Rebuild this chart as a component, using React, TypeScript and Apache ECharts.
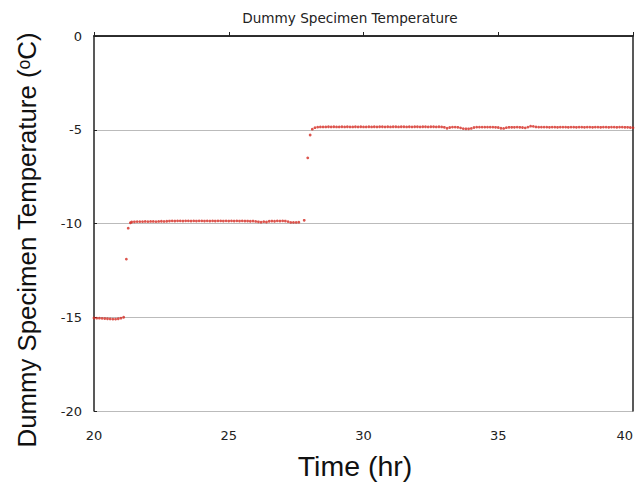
import React, { useEffect, useRef } from "react";
import * as echarts from "echarts";

const chartTitle = "Dummy Specimen Temperature";
const xAxisTitle = "Time (hr)";
const yAxisTitle = "Dummy Specimen Temperature (ᵒC)";
const xTicks = { min: 20, max: 40, interval: 5 };
const yTicks = { min: -20, max: 0, interval: 5 };

// Segment at about -15 °C
const timeA = [20.0, 20.1, 20.2, 20.3, 20.4, 20.5, 20.6, 20.7, 20.8, 20.9, 21.0, 21.1];
const tempA = [-15.04, -15.05, -15.05, -15.06, -15.07, -15.08, -15.09, -15.1, -15.1, -15.08, -15.05, -15.0];

// Step to -10 °C
const timeAB = [21.2, 21.27, 21.35];
const tempAB = [-11.9, -10.25, -9.96];

// Segment at about -10 °C
const timeB = [
  21.4, 21.5, 21.6, 21.7, 21.8, 21.9, 22.0, 22.1, 22.2, 22.3, 22.4, 22.5, 22.6, 22.7,
  22.8, 22.9, 23.0, 23.1, 23.2, 23.3, 23.4, 23.5, 23.6, 23.7, 23.8, 23.9, 24.0, 24.1,
  24.2, 24.3, 24.4, 24.5, 24.6, 24.7, 24.8, 24.9, 25.0, 25.1, 25.2, 25.3, 25.4, 25.5,
  25.6, 25.7, 25.8, 25.9, 26.0, 26.1, 26.2, 26.3, 26.4, 26.5, 26.6, 26.7, 26.8, 26.9,
  27.0, 27.1, 27.2, 27.3, 27.4, 27.5, 27.6, 27.8,
];
const tempB = [
  -9.92, -9.91, -9.9, -9.9, -9.9, -9.89, -9.9, -9.89, -9.89, -9.9, -9.89, -9.88, -9.89, -9.88,
  -9.87, -9.86, -9.87, -9.86, -9.86, -9.87, -9.86, -9.86, -9.87, -9.86, -9.87, -9.86, -9.86, -9.87,
  -9.86, -9.87, -9.86, -9.87, -9.86, -9.86, -9.87, -9.86, -9.87, -9.86, -9.87, -9.86, -9.87, -9.86,
  -9.87, -9.87, -9.88, -9.87, -9.89, -9.91, -9.93, -9.9, -9.92, -9.88, -9.87, -9.88, -9.86, -9.87,
  -9.86, -9.87, -9.9, -9.94, -9.94, -9.94, -9.93, -9.83,
];

// Step to -5 °C
const timeBC = [27.93, 28.02, 28.1, 28.2];
const tempBC = [-6.5, -5.28, -4.97, -4.89];

// Segment at about -5 °C
const timeC = [
  28.3, 28.4, 28.5, 28.6, 28.7, 28.8, 28.9, 29.0, 29.1, 29.2, 29.3, 29.4, 29.5, 29.6, 29.7, 29.8, 29.9,
  30.0, 30.1, 30.2, 30.3, 30.4, 30.5, 30.6, 30.7, 30.8, 30.9, 31.0, 31.1, 31.2, 31.3, 31.4, 31.5, 31.6,
  31.7, 31.8, 31.9, 32.0, 32.1, 32.2, 32.3, 32.4, 32.5, 32.6, 32.7, 32.8, 32.9, 33.0, 33.1, 33.2, 33.3,
  33.4, 33.5, 33.6, 33.7, 33.8, 33.9, 34.0, 34.1, 34.2, 34.3, 34.4, 34.5, 34.6, 34.7, 34.8, 34.9, 35.0,
  35.1, 35.2, 35.3, 35.4, 35.5, 35.6, 35.7, 35.8, 35.9, 36.0, 36.1, 36.2, 36.3, 36.4, 36.5, 36.6, 36.7,
  36.8, 36.9, 37.0, 37.1, 37.2, 37.3, 37.4, 37.5, 37.6, 37.7, 37.8, 37.9, 38.0, 38.1, 38.2, 38.3, 38.4,
  38.5, 38.6, 38.7, 38.8, 38.9, 39.0, 39.1, 39.2, 39.3, 39.4, 39.5, 39.6, 39.7, 39.8, 39.9, 40.0,
];
const tempC = [
  -4.86, -4.85, -4.85, -4.85, -4.84, -4.85, -4.84, -4.85, -4.85, -4.84, -4.85, -4.84, -4.85, -4.85, -4.84, -4.85, -4.84,
  -4.85, -4.85, -4.84, -4.85, -4.84, -4.85, -4.84, -4.84, -4.85, -4.84, -4.85, -4.84, -4.84, -4.85, -4.84, -4.84, -4.85,
  -4.84, -4.85, -4.84, -4.84, -4.85, -4.84, -4.84, -4.85, -4.84, -4.84, -4.85, -4.84, -4.85, -4.87, -4.92, -4.88, -4.86,
  -4.86, -4.87, -4.9, -4.94, -4.95, -4.95, -4.93, -4.88, -4.86, -4.86, -4.86, -4.86, -4.86, -4.86, -4.86, -4.87, -4.88,
  -4.92, -4.93, -4.89, -4.87, -4.87, -4.87, -4.86, -4.87, -4.88, -4.9, -4.86, -4.81, -4.82, -4.85, -4.86, -4.86, -4.86,
  -4.86, -4.87, -4.86, -4.86, -4.87, -4.86, -4.86, -4.86, -4.87, -4.86, -4.86, -4.87, -4.86, -4.86, -4.87, -4.86, -4.86,
  -4.87, -4.86, -4.86, -4.87, -4.86, -4.86, -4.87, -4.86, -4.86, -4.87, -4.86, -4.86, -4.87, -4.87, -4.88, -4.89,
];

const timeHr = [...timeA, ...timeAB, ...timeB, ...timeBC, ...timeC];
const tempDegC = [...tempA, ...tempAB, ...tempB, ...tempBC, ...tempC];

export default function App() {
  const ref = useRef<HTMLDivElement>(null);

  useEffect(() => {
    document.body.style.margin = "0";
    if (!ref.current) return;
    const chart = echarts.init(ref.current, null, { renderer: "svg" });
    const axisColor = "#222";
    const labelFont = "DejaVu Sans";
    chart.setOption({
      animation: false,
      backgroundColor: "#fff",
      title: {
        text: chartTitle,
        left: 345,
        top: 6,
        textAlign: "center",
        textStyle: { fontFamily: labelFont, fontSize: 13.6, fontWeight: "normal", color: "#222" },
      },
      grid: { left: 94, right: 6, top: 36, bottom: 72, containLabel: false, outerBoundsMode: "none" },
      graphic: [
        {
          type: "text",
          x: 27,
          y: 240,
          rotation: Math.PI / 2,
          style: {
            text: yAxisTitle,
            fontFamily: "Liberation Sans",
            fontSize: 25.8,
            fill: "#111",
            align: "center",
            verticalAlign: "middle",
          },
        },
        {
          type: "text",
          x: 355,
          y: 466,
          style: {
            text: xAxisTitle,
            fontFamily: "Liberation Sans",
            fontSize: 28.5,
            fill: "#111",
            align: "center",
            verticalAlign: "middle",
          },
        },
      ],
      xAxis: [
        {
          type: "value",
          min: xTicks.min,
          max: xTicks.max,
          interval: xTicks.interval,
          position: "bottom",
          axisLine: { show: true, lineStyle: { color: axisColor, width: 1.5 } },
          axisTick: { show: false },
          axisLabel: {
            fontFamily: labelFont,
            fontSize: 13,
            color: "#222",
            margin: 18,
            alignMaxLabel: "right",
          },
          splitLine: { show: false },
        },
        {
          type: "value",
          min: xTicks.min,
          max: xTicks.max,
          interval: xTicks.interval,
          position: "top",
          axisLine: { show: true, lineStyle: { color: axisColor, width: 1.5 } },
          axisTick: { show: true, inside: false, length: 4, lineStyle: { color: axisColor, width: 1 } },
          axisLabel: { show: false },
          splitLine: { show: false },
        },
      ],
      yAxis: [
        {
          type: "value",
          min: yTicks.min,
          max: yTicks.max,
          interval: yTicks.interval,
          position: "left",
          axisLine: { show: true, lineStyle: { color: axisColor, width: 1.5 } },
          axisTick: { show: true, inside: true, length: 3, lineStyle: { color: axisColor } },
          axisLabel: { fontFamily: labelFont, fontSize: 13, color: "#222", margin: 12 },
          splitLine: { show: true, lineStyle: { color: "#bbb", width: 1 } },
        },
        {
          type: "value",
          min: yTicks.min,
          max: yTicks.max,
          interval: yTicks.interval,
          position: "right",
          axisLine: { show: true, lineStyle: { color: axisColor, width: 1.5 } },
          axisTick: { show: false },
          axisLabel: { show: false },
          splitLine: { show: false },
        },
      ],
      series: [
        {
          type: "scatter",
          xAxisIndex: 0,
          yAxisIndex: 0,
          symbol: "circle",
          symbolSize: 2.8,
          itemStyle: { color: "#d42a22" },
          data: timeHr.map((t, i) => [t, tempDegC[i]]),
        },
      ],
    });
    return () => chart.dispose();
  }, []);

  return <div ref={ref} style={{ width: 639, height: 483 }} />;
}
